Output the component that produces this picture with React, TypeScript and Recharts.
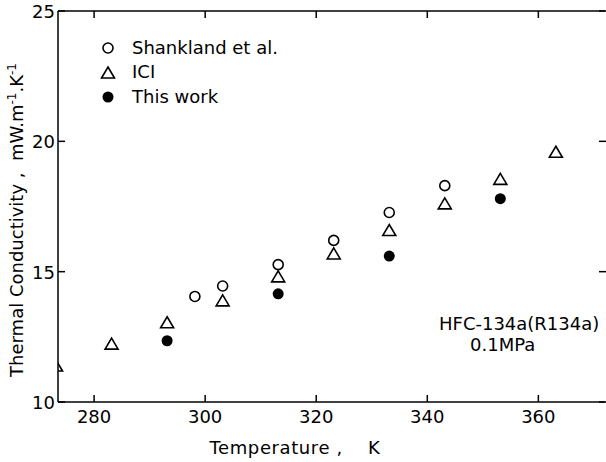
import React from 'react';
import { ScatterChart, Scatter, XAxis, YAxis, Legend } from 'recharts';

const FONT = '"DejaVu Sans", sans-serif';

// Shankland et al.
const shanklandT = [298.15, 303.15, 313.15, 323.15, 333.15, 343.15];
const shanklandK = [14.05, 14.45, 15.27, 16.2, 17.27, 18.3];
// ICI
const iciT = [273.15, 283.15, 293.15, 303.15, 313.15, 323.15, 333.15, 343.15, 353.15, 363.15];
const iciK = [11.38, 12.22, 13.04, 13.88, 14.8, 15.68, 16.58, 17.6, 18.54, 19.58];
// This work
const thisWorkT = [293.15, 313.15, 333.15, 353.15];
const thisWorkK = [12.35, 14.15, 15.6, 17.8];

const seriesNames = ['Shankland et al.', 'ICI', 'This work'];
const xTicks = [280, 300, 320, 340, 360];
const yTicks = [10, 15, 20, 25];

const zip = (ts: number[], ks: number[]) => ts.map((t, i) => ({ t, k: ks[i] }));

const OpenCircle = (p: any) => (
  <circle cx={p.cx} cy={p.cy} r={5} fill="#fff" stroke="#000" strokeWidth={1.6} />
);
const OpenTriangle = (p: any) => (
  <path
    d={`M${p.cx},${p.cy - 6} L${p.cx + 6.5},${p.cy + 5} L${p.cx - 6.5},${p.cy + 5} Z`}
    fill="none"
    stroke="#000"
    strokeWidth={1.6}
  />
);
const FilledCircle = (p: any) => <circle cx={p.cx} cy={p.cy} r={5.5} fill="#000" />;

const shapes = [OpenCircle, OpenTriangle, FilledCircle];

const renderLegend = () => (
  <div style={{ fontFamily: FONT, fontSize: 18, color: '#000' }}>
    {seriesNames.map((name, i) => (
      <div key={name} style={{ display: 'flex', alignItems: 'center', height: 24.5 }}>
        <svg width={22} height={22} style={{ marginRight: 13 }}>
          {shapes[i]({ cx: 11, cy: 12 })}
        </svg>
        <span>{name}</span>
      </div>
    ))}
  </div>
);

// inward tick marks drawn by hand together with the labels
const BottomTick = (p: any) => (
  <g>
    <line x1={p.x} x2={p.x} y1={p.y} y2={p.y - 7} stroke="#000" strokeWidth={1.5} />
    <text x={p.x} y={p.y + 21} textAnchor="middle" fontFamily={FONT} fontSize={18} fill="#000">
      {p.payload.value}
    </text>
  </g>
);
const TopTick = (p: any) => (
  <line x1={p.x} x2={p.x} y1={p.y} y2={p.y + 7} stroke="#000" strokeWidth={1.5} />
);
const LeftTick = (p: any) => (
  <g>
    <line x1={p.x} x2={p.x + 7} y1={p.y} y2={p.y} stroke="#000" strokeWidth={1.5} />
    <text x={p.x - 3} y={p.y + 7} textAnchor="end" fontFamily={FONT} fontSize={18} fill="#000">
      {p.payload.value}
    </text>
  </g>
);
const RightTick = (p: any) => (
  <line x1={p.x + 1} x2={p.x - 6} y1={p.y} y2={p.y} stroke="#000" strokeWidth={1.5} />
);

const YLabel = () => (
  <text
    transform="translate(23, 220) rotate(-90)"
    textAnchor="middle"
    fontFamily={FONT}
    fontSize={18}
    fill="#000"
    style={{ whiteSpace: 'pre' }}
  >
    <tspan>Thermal Conductivity ,  mW.m</tspan>
    <tspan fontSize={12} dy={-7}>-1</tspan>
    <tspan dy={7}>.K</tspan>
    <tspan fontSize={12} dy={-7}>-1</tspan>
  </text>
);

const XLabel = () => (
  <text
    x={295}
    y={454}
    textAnchor="middle"
    fontFamily={FONT}
    fontSize={18}
    fill="#000"
    letterSpacing={0.6}
    style={{ whiteSpace: 'pre' }}
  >
    Temperature ,    K
  </text>
);

export default function App() {
  return (
    <div style={{ position: 'absolute', left: 0, top: 0, width: 606, height: 462, background: '#fff' }}>
      <ScatterChart width={606} height={462} margin={{ top: 10, right: 0, bottom: 0, left: 0 }}>
        <XAxis
          xAxisId="bottom"
          dataKey="t"
          type="number"
          domain={[273.5, 372]}
          ticks={xTicks}
          allowDataOverflow
          height={60}
          stroke="#000"
          strokeWidth={1.5}
          tickLine={false}
          tickSize={0}
          tickMargin={0}
          tick={BottomTick}
          label={<XLabel />}
        />
        <XAxis
          xAxisId="top"
          orientation="top"
          dataKey="t"
          type="number"
          domain={[273.5, 372]}
          ticks={xTicks}
          allowDataOverflow
          height={1}
          stroke="#000"
          strokeWidth={1.5}
          tickLine={false}
          tickSize={0}
          tickMargin={0}
          tick={TopTick}
        />
        <YAxis
          yAxisId="left"
          dataKey="k"
          type="number"
          domain={[10, 25]}
          ticks={yTicks}
          allowDataOverflow
          width={58}
          stroke="#000"
          strokeWidth={1.5}
          tickLine={false}
          tickSize={0}
          tickMargin={0}
          tick={LeftTick}
          label={<YLabel />}
        />
        <YAxis
          yAxisId="right"
          orientation="right"
          dataKey="k"
          type="number"
          domain={[10, 25]}
          ticks={yTicks}
          allowDataOverflow
          width={1}
          axisLine={false}
          tickLine={false}
          tickSize={0}
          tickMargin={0}
          tick={RightTick}
        />
        <Legend
          verticalAlign="middle"
          align="center"
          layout="vertical"
          content={renderLegend}
          wrapperStyle={{ left: 97, top: 35, width: 'auto' }}
        />
        <Scatter
          name={seriesNames[0]}
          data={zip(shanklandT, shanklandK)}
          xAxisId="bottom"
          yAxisId="left"
          shape={OpenCircle}
          isAnimationActive={false}
        />
        <Scatter
          name={seriesNames[1]}
          data={zip(iciT, iciK)}
          xAxisId="bottom"
          yAxisId="left"
          shape={OpenTriangle}
          isAnimationActive={false}
        />
        <Scatter
          name={seriesNames[2]}
          data={zip(thisWorkT, thisWorkK)}
          xAxisId="bottom"
          yAxisId="left"
          shape={FilledCircle}
          isAnimationActive={false}
        />
      </ScatterChart>
      <div
        style={{
          position: 'absolute',
          left: 439,
          top: 313,
          fontFamily: FONT,
          fontSize: 18,
          lineHeight: '21px',
          color: '#000',
          whiteSpace: 'pre',
        }}
      >
        <div>HFC-134a(R134a)</div>
        <div style={{ paddingLeft: 31 }}>0.1MPa</div>
      </div>
    </div>
  );
}
